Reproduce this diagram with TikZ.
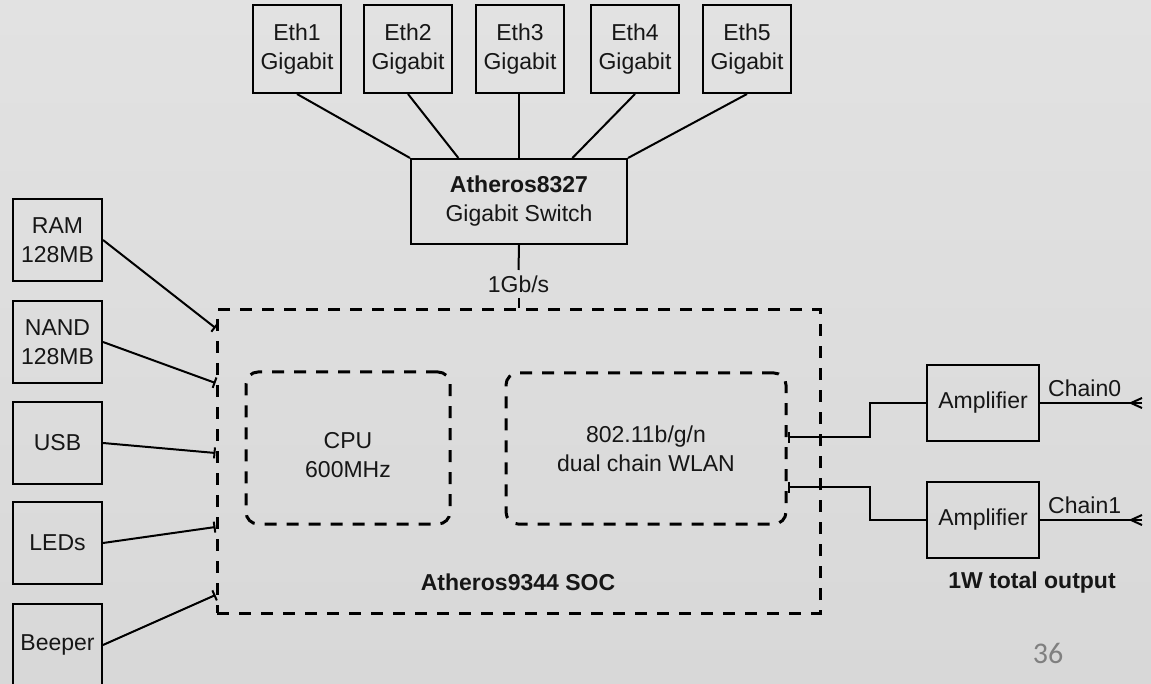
\documentclass[tikz,border=0pt]{standalone}
\usepackage{fontspec}
\setmainfont{Liberation Sans}
\newfontfamily\pagefont{Carlito}
\usetikzlibrary{arrows.meta,calc}
\definecolor{bgtop}{RGB}{226,226,226}
\definecolor{bgbot}{RGB}{216,216,216}
\definecolor{ink}{RGB}{22,22,22}
\definecolor{pagegray}{RGB}{128,128,128}
\begin{document}
\begin{tikzpicture}[x=1pt,y=-1pt,
  font=\fontsize{23}{29}\selectfont,
  every node/.append style={text=ink},
  blk/.style={draw=black, line width=2pt, align=center, inner sep=0pt},
  ethbox/.style={blk, minimum width=88pt, minimum height=88pt},
  leftbox/.style={blk, minimum width=89pt, minimum height=82pt},
  ampbox/.style={blk, minimum width=112pt, minimum height=76pt},
  dashbox/.style={draw=black, line width=3pt, dash pattern=on 12pt off 10pt},
  roundbox/.style={dashbox, rounded corners=12pt, align=center},
  wire/.style={draw=black, line width=2pt},
  tick/.style={-{Bar[width=11pt]}},
  tickstart/.style={{Bar[width=11pt]}-},
  plain/.style={inner sep=0pt, align=center}
]
\useasboundingbox (0,0) rectangle (1151,684);
\clip (0,0) rectangle (1151,684);
\shade[top color=bgtop, bottom color=bgbot] (0,0) rectangle (1151,684);

% Ethernet ports
\node[ethbox] (e1) at (297,49) {Eth1\\Gigabit};
\node[ethbox] (e2) at (408,49) {Eth2\\Gigabit};
\node[ethbox] (e3) at (520,49) {Eth3\\Gigabit};
\node[ethbox] (e4) at (635,49) {Eth4\\Gigabit};
\node[ethbox] (e5) at (747,49) {Eth5\\Gigabit};

% Switch
\node[blk, minimum width=216pt, minimum height=85pt] (sw) at (519,201.5)
  {\textbf{Atheros8327}\\Gigabit Switch};

\draw[wire] (e1.south) -- (sw.north west);
\draw[wire] (e2.south) -- ($(sw.north west)!0.222!(sw.north east)$);
\draw[wire] (e3.south -| sw.north) -- (sw.north);
\draw[wire] (e4.south) -- ($(sw.north west)!0.745!(sw.north east)$);
\draw[wire] (e5.south) -- (sw.north east);

% SOC
\node[dashbox, minimum width=603pt, minimum height=303pt] (soc) at (518.5,461.5) {};
\node[plain] (gb) at (518.5,284) {1Gb/s};
\draw[wire] (sw.south) -- (gb.north |- 0,270);
\draw[wire] (gb.south |- 0,298) -- (soc.north);
\node[plain, font=\fontsize{23}{29}\selectfont\bfseries] (soclbl) at (518,582) {Atheros9344 SOC};

% CPU and WLAN
\node[roundbox, minimum width=204pt, minimum height=152pt] (cpu) at (348,448) {};
\node[plain] (cputxt) at (348,455) {CPU\\600MHz};
\node[roundbox, minimum width=280pt, minimum height=151pt] (wlan) at (646,448.5)
  {802.11b/g/n\\dual chain WLAN};

% Left peripherals
\node[leftbox] (ram)  at (57.5,240) {RAM\\128MB};
\node[leftbox] (nand) at (57.5,342) {NAND\\128MB};
\node[leftbox] (usb)  at (57.5,443) {USB};
\node[leftbox] (led)  at (57.5,543) {LEDs};
\node[leftbox] (bee)  at (57.5,645) {Beeper};

\draw[wire, tick] (ram.east)  -- (soc.west |- 0,328);
\draw[wire, tick] (nand.east) -- (soc.west |- 0,383);
\draw[wire, tick] (usb.east)  -- (soc.west |- 0,453);
\draw[wire, tick] (led.east)  -- (soc.west |- 0,527);
\draw[wire, tick] (bee.east)  -- (soc.west |- 0,595);

% Amplifiers
\node[ampbox] (amp1) at (983,403) {Amplifier};
\node[ampbox] (amp2) at (983,520) {Amplifier};

\draw[wire, tickstart] (wlan.east |- 0,437) -- ++(82,0) |- (amp1.west);
\draw[wire, tickstart] (wlan.east |- 0,487) -- ++(82,0) |- (amp2.west);

% Antennas
\coordinate (ant0) at (1142,403);
\coordinate (ant1) at (1142,520);
\draw[wire] (amp1.east) -- (ant0);
\draw[wire] (amp2.east) -- (ant1);
\draw[wire] ($(ant0)+(0,-5)$) -- ($(ant0)+(-11,0)$) -- ($(ant0)+(0,5)$);
\draw[wire] ($(ant1)+(0,-5)$) -- ($(ant1)+(-11,0)$) -- ($(ant1)+(0,5)$);
\node[anchor=base west, inner sep=0pt] (ch0) at (1048,396) {Chain0};
\node[anchor=base west, inner sep=0pt] (ch1) at (1048,513) {Chain1};

\node[plain, font=\fontsize{23}{29}\selectfont\bfseries] (out) at (1032,583) {1W total output};

% Page number
\node[plain, text=pagegray, font=\pagefont\fontsize{30}{36}\selectfont] (pg) at (1048,653) {36};
\end{tikzpicture}
\end{document}
